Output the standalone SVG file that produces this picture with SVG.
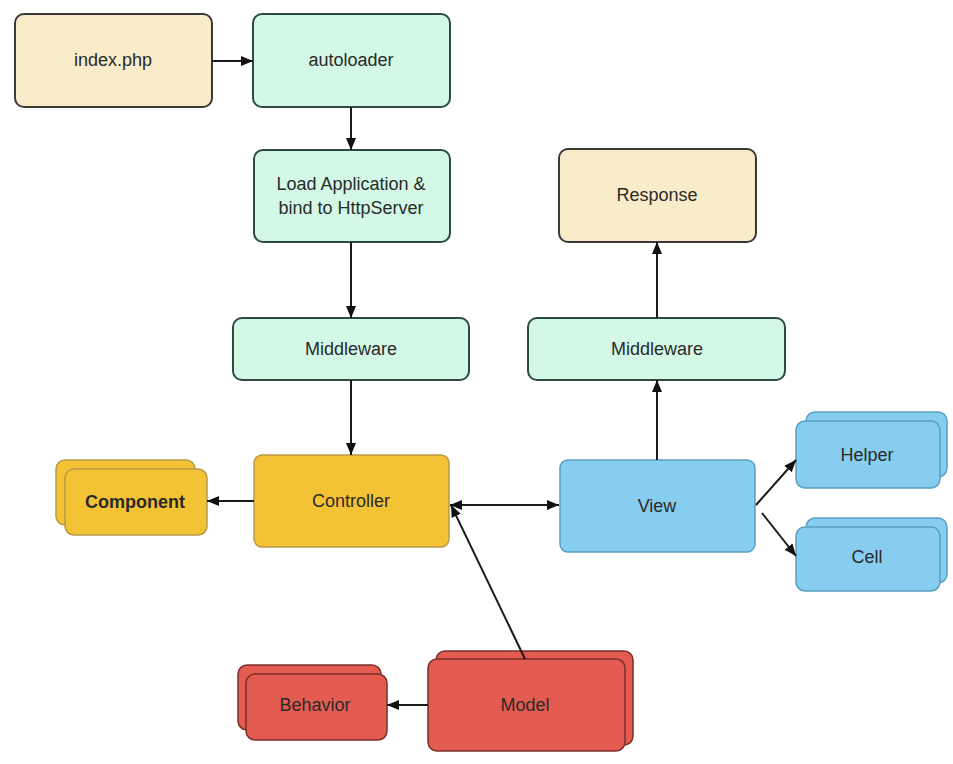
<svg xmlns="http://www.w3.org/2000/svg" width="953" height="764" viewBox="0 0 953 764">
<defs>
<marker id="ah" viewBox="0 0 12 10" refX="12" refY="5" markerWidth="12" markerHeight="10" markerUnits="userSpaceOnUse" orient="auto-start-reverse">
<path d="M0,0 L12,5 L0,10 z" fill="#111"/>
</marker>
<style>
text{font-family:"Liberation Sans",Arial,sans-serif;font-size:18px;text-anchor:middle;dominant-baseline:central;fill:#2a2a2a}
.beige{fill:#faecc8;stroke:#3a3a3a;stroke-width:2}
.mint{fill:#d3f8e6;stroke:#2f4a40;stroke-width:2}
.gold{fill:#f4c235;stroke:#b89a45;stroke-width:1.5}
.blue{fill:#87cdef;stroke:#5a9fc2;stroke-width:1.5}
.red{fill:#e35b51;stroke:#7a2f2a;stroke-width:1.5}
.c{fill:none;stroke:#1a1a1a;stroke-width:2}
</style>
</defs>
<rect width="953" height="764" fill="#ffffff"/>
<g id="index"><rect class="beige" x="15" y="14" width="197" height="93" rx="9"/><text x="113" y="60">index.php</text></g>
<g id="autoloader"><rect class="mint" x="253" y="14" width="197" height="93" rx="9"/><text x="351" y="60">autoloader</text></g>
<g id="load"><rect class="mint" x="254" y="150" width="196" height="92" rx="9"/><text x="351" y="184">Load Application &amp;</text><text x="351" y="208">bind to HttpServer</text></g>
<g id="middleware1"><rect class="mint" x="233" y="318" width="236" height="62" rx="9"/><text x="351" y="349">Middleware</text></g>
<g id="controller"><rect class="gold" x="254" y="455" width="195" height="92" rx="8"/><text x="351" y="501">Controller</text></g>
<g id="component"><rect class="gold" x="56" y="460" width="139" height="65" rx="9"/><rect class="gold" x="65" y="469" width="142" height="66" rx="9"/><text x="135" y="502" style="font-weight:bold">Component</text></g>
<g id="view"><rect class="blue" x="560" y="460" width="195" height="92" rx="8"/><text x="657" y="506">View</text></g>
<g id="helper"><rect class="blue" x="806" y="412" width="141" height="65" rx="9"/><rect class="blue" x="796" y="421" width="144" height="67" rx="9"/><text x="867" y="455">Helper</text></g>
<g id="cell"><rect class="blue" x="806" y="518" width="141" height="65" rx="9"/><rect class="blue" x="796" y="527" width="144" height="64" rx="9"/><text x="867" y="557">Cell</text></g>
<g id="middleware2"><rect class="mint" x="528" y="318" width="257" height="62" rx="9"/><text x="657" y="349">Middleware</text></g>
<g id="response"><rect class="beige" x="559" y="149" width="197" height="93" rx="9"/><text x="657" y="195">Response</text></g>
<g id="model"><rect class="red" x="436" y="651" width="197" height="94" rx="9"/><rect class="red" x="428" y="659" width="197" height="92" rx="9"/><text x="525" y="705">Model</text></g>
<g id="behavior"><rect class="red" x="238" y="665" width="143" height="65" rx="9"/><rect class="red" x="246" y="674" width="141" height="66" rx="9"/><text x="315" y="705">Behavior</text></g>
<g id="connectors">
<line class="c" x1="212" y1="61" x2="253" y2="61" marker-end="url(#ah)"/>
<line class="c" x1="351" y1="107" x2="351" y2="150" marker-end="url(#ah)"/>
<line class="c" x1="351" y1="242" x2="351" y2="318" marker-end="url(#ah)"/>
<line class="c" x1="351" y1="380" x2="351" y2="455" marker-end="url(#ah)"/>
<line class="c" x1="254" y1="501" x2="207" y2="501" marker-end="url(#ah)"/>
<line class="c" x1="450" y1="505" x2="559" y2="505" marker-start="url(#ah)" marker-end="url(#ah)"/>
<line class="c" x1="525" y1="659" x2="451" y2="505" marker-end="url(#ah)"/>
<line class="c" x1="657" y1="460" x2="657" y2="380" marker-end="url(#ah)"/>
<line class="c" x1="657" y1="318" x2="657" y2="242" marker-end="url(#ah)"/>
<line class="c" x1="756" y1="505" x2="796" y2="460" marker-end="url(#ah)"/>
<line class="c" x1="762" y1="513" x2="796" y2="556" marker-end="url(#ah)"/>
<line class="c" x1="428" y1="705" x2="387" y2="705" marker-end="url(#ah)"/>
</g>
</svg>
